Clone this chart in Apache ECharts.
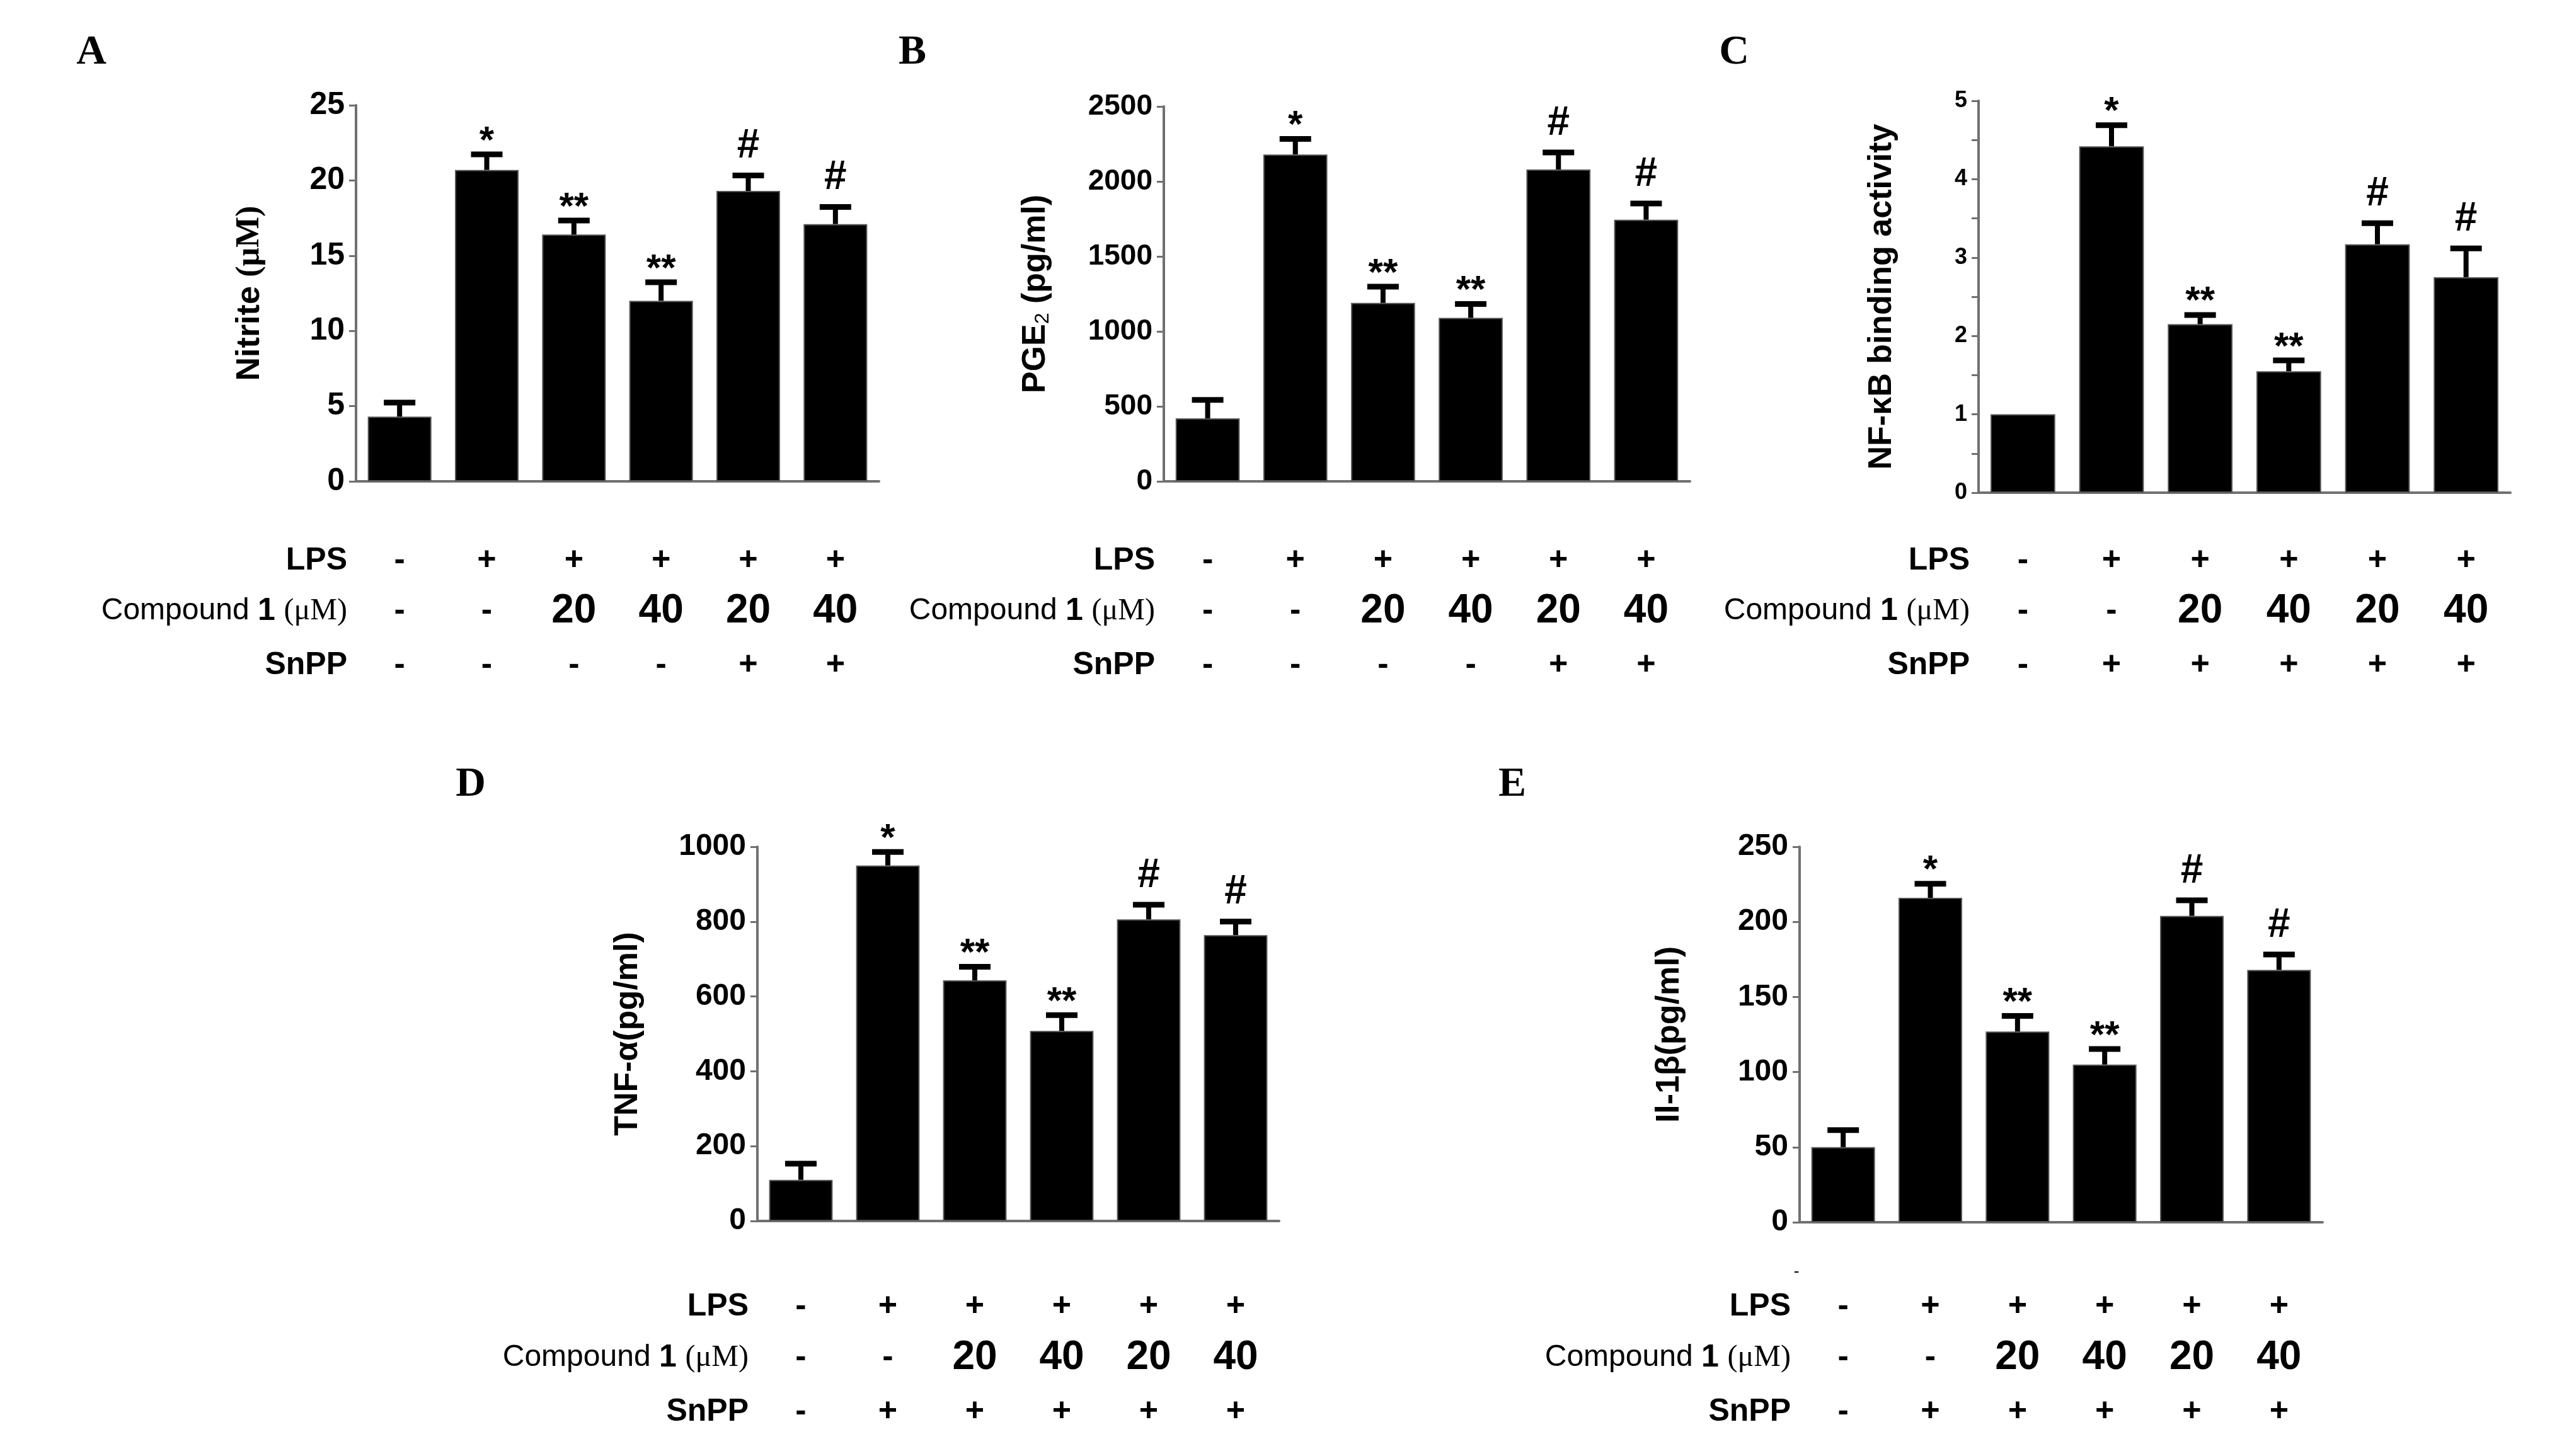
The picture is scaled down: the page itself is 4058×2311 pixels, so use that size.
<!DOCTYPE html>
<html><head><meta charset="utf-8">
<script src="https://cdn.jsdelivr.net/npm/echarts@6/dist/echarts.min.js"></script>
<style>html,body{margin:0;padding:0;background:#fff}#c{width:4058px;height:2311px}</style>
</head><body><div id="c"></div>
<script>
// ---------- data ----------
const groups = ['G1', 'G2', 'G3', 'G4', 'G5', 'G6'];
const lpsRow = ['-', '+', '+', '+', '+', '+'];
const compoundRow = ['-', '-', '20', '40', '20', '40'];
const snppRowAB = ['-', '-', '-', '-', '+', '+'];
const snppRowCDE = ['-', '+', '+', '+', '+', '+'];
const marks = ['', '*', '**', '**', '#', '#'];

const nitriteMean = [4.3, 20.7, 16.4, 12.0, 19.3, 17.1];
const nitriteErr  = [1.1, 1.2, 1.1, 1.4, 1.2, 1.3];
const pgeMean = [420, 2180, 1190, 1090, 2080, 1745];
const pgeErr  = [140, 120, 125, 110, 130, 125];
const nfkbMean = [1.0, 4.42, 2.15, 1.55, 3.17, 2.75];
const nfkbErr  = [0, 0.30, 0.15, 0.17, 0.30, 0.40];
const tnfMean = [110, 950, 643, 508, 806, 764];
const tnfErr  = [50, 43, 43, 49, 46, 43];
const il1bMean = [50, 216, 127, 105, 204, 168];
const il1bErr  = [13, 11, 12, 12, 12, 12];

const yMaxA = 25, yStepA = 5;
const yMaxB = 2500, yStepB = 500;
const yMaxC = 5, yStepC = 1;
const yMaxD = 1000, yStepD = 200;
const yMaxE = 250, yStepE = 50;

// ---------- styles / layout ----------
const SANS = "'Liberation Sans', Arial, Helvetica, sans-serif";
const SERIF = "'Liberation Serif', 'Times New Roman', serif";
const AXIS = '#707070';

const panels = [
  { letter: 'A', lx: 145, ly: 84, mean: nitriteMean, err: nitriteErr, max: yMaxA, step: yStepA, snpp: snppRowAB,
    grid: { left: 565, top: 167, width: 830, height: 597 }, rows: [890, 970, 1056], tickFont: 50, nameGap: 142,
    name: '{b|Nitrite }{s|(μM)}' },
  { letter: 'B', lx: 1448, ly: 84, mean: pgeMean, err: pgeErr, max: yMaxB, step: yStepB, snpp: snppRowAB,
    grid: { left: 1847, top: 169, width: 835, height: 595 }, rows: [890, 970, 1056], tickFont: 46, nameGap: 176,
    name: '{b|PGE}{sub|2}{b| (pg/ml)}' },
  { letter: 'C', lx: 2752, ly: 84, mean: nfkbMean, err: nfkbErr, max: yMaxC, step: yStepC, snpp: snppRowCDE,
    grid: { left: 3140, top: 160, width: 844, height: 622 }, rows: [890, 970, 1056], tickFont: 36, nameGap: 127,
    name: '{b|NF-κB binding activity}', minor: true },
  { letter: 'D', lx: 747, ly: 1246, mean: tnfMean, err: tnfErr, max: yMaxD, step: yStepD, snpp: snppRowCDE,
    grid: { left: 1202, top: 1344, width: 828, height: 594 }, rows: [2074, 2155, 2241], tickFont: 48, nameGap: 179,
    name: '{b|TNF-α(pg/ml)}' },
  { letter: 'E', lx: 2400, ly: 1246, mean: il1bMean, err: il1bErr, max: yMaxE, step: yStepE, snpp: snppRowCDE,
    grid: { left: 2856, top: 1344, width: 830, height: 596 }, rows: [2074, 2155, 2241], tickFont: 48, nameGap: 180,
    name: '{b|Il-1β(pg/ml)}' }
];

const nameRich = {
  b: { fontFamily: SANS, fontWeight: 'bold', fontSize: 52, color: '#000' },
  s: { fontFamily: SERIF, fontWeight: 'bold', fontSize: 52, color: '#000' },
  sub: { fontFamily: SANS, fontWeight: 'normal', fontSize: 32, color: '#000', padding: [22, 0, 0, 0] }
};

function errRender(params, api) {
  const i = api.value(0), m = api.value(1), e = api.value(2);
  const mark = marks[params.dataIndex];
  const top = api.coord([i, m]);
  const cap = api.coord([i, m + e]);
  const children = [];
  if (e > 0) {
    children.push({ type: 'line', shape: { x1: top[0], y1: top[1], x2: cap[0], y2: cap[1] + 4 },
      style: { stroke: '#000', lineWidth: 8 } });
    children.push({ type: 'line', shape: { x1: cap[0] - 25, y1: cap[1] + 4, x2: cap[0] + 25, y2: cap[1] + 4 },
      style: { stroke: '#000', lineWidth: 9 } });
  }
  if (mark) {
    const isHash = mark[0] === '#';
    children.push({ type: 'text', x: cap[0], y: cap[1] - (isHash ? 42 : 16),
      style: { text: mark, fontSize: isHash ? 64 : 60, fontWeight: 'bold', fontFamily: SANS, fill: '#000',
               align: 'center', verticalAlign: 'middle' } });
  }
  return { type: 'group', children };
}

const grid = [], xAxis = [], yAxis = [], series = [], graphic = [];

panels.forEach((p, gi) => {
  grid.push(Object.assign({}, p.grid));
  const bottom = p.grid.top + p.grid.height;
  const base = xAxis.length;
  xAxis.push({
    type: 'category', gridIndex: gi, data: groups,
    axisLine: { show: true, lineStyle: { color: AXIS, width: 4 } },
    axisTick: { show: false }, axisLabel: { show: false }
  });
  const rowDefs = [
    { name: '{b|LPS}', data: lpsRow },
    { name: '{r|Compound }{b|1 }{s|(μM)}', data: compoundRow },
    { name: '{b|SnPP}', data: p.snpp }
  ];
  rowDefs.forEach((r, ri) => {
    xAxis.push({
      type: 'category', gridIndex: gi, data: r.data, position: 'bottom',
      offset: p.rows[ri] - bottom,
      axisLine: { show: false }, axisTick: { show: false },
      axisLabel: {
        interval: 0, margin: 0, verticalAlign: 'middle',
        formatter: v => /\d/.test(v) ? '{n|' + v + '}' : '{d|' + v + '}',
        rich: {
          n: { fontFamily: SANS, fontWeight: 'bold', fontSize: 64, color: '#000' },
          d: { fontFamily: SANS, fontWeight: 'bold', fontSize: 52, color: '#000' }
        }
      },
      name: r.name, nameLocation: 'start', nameGap: 14,
      nameTextStyle: {
        align: 'right', verticalAlign: 'middle',
        rich: {
          b: { fontFamily: SANS, fontWeight: 'bold', fontSize: 50, color: '#000' },
          r: { fontFamily: SANS, fontWeight: 'normal', fontSize: 48, color: '#000' },
          s: { fontFamily: SERIF, fontWeight: 'normal', fontSize: 48, color: '#000' }
        }
      }
    });
  });
  yAxis.push({
    type: 'value', gridIndex: gi, min: 0, max: p.max, interval: p.step,
    axisLine: { show: true, lineStyle: { color: AXIS, width: 4 } },
    axisTick: { show: true, length: 11, lineStyle: { color: AXIS, width: 3 } },
    minorTick: p.minor ? { show: true, splitNumber: 2, length: 11, lineStyle: { color: AXIS, width: 3 } } : { show: false },
    splitLine: { show: false },
    axisLabel: { fontFamily: SANS, fontWeight: 'bold', fontSize: p.tickFont, color: '#000', margin: 18,
                 formatter: v => String(v) },
    name: p.name, nameLocation: 'middle', nameGap: p.nameGap,
    nameTextStyle: { rich: nameRich }
  });
  series.push({
    type: 'bar', xAxisIndex: base, yAxisIndex: gi, data: p.mean, barWidth: '73%',
    itemStyle: { color: '#000', borderColor: '#555', borderWidth: 2 }, silent: true, animation: false
  });
  series.push({
    type: 'custom', xAxisIndex: base, yAxisIndex: gi,
    data: p.mean.map((m, i) => [i, m, p.err[i]]),
    renderItem: errRender, z: 5, animation: false, silent: true
  });
  graphic.push({
    type: 'text', x: p.lx, y: p.ly,
    style: { text: p.letter, fontFamily: SERIF, fontWeight: 'bold', fontSize: 66, fill: '#000',
             align: 'center', verticalAlign: 'middle' }
  });
});

// small stray dash under panel E's axis
graphic.push({ type: 'text', x: 2851, y: 2019,
  style: { text: '-', fontFamily: SANS, fontSize: 26, fill: '#000', align: 'center', verticalAlign: 'middle' } });

const chart = echarts.init(document.getElementById('c'), null, { renderer: 'canvas' });
chart.setOption({ backgroundColor: '#fff', animation: false, grid, xAxis, yAxis, series, graphic });
</script>
</body></html>
